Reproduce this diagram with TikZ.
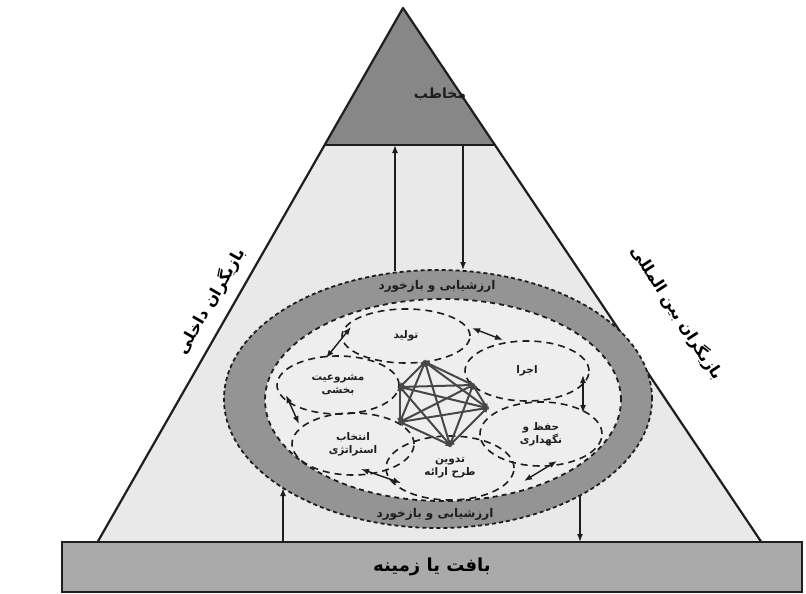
\documentclass[tikz,border=0pt]{standalone}
\usepackage{fontspec}
\newfontfamily\arabicfont[Script=Arabic]{DejaVu Sans}
\TeXXeTstate=1
\usetikzlibrary{arrows.meta,shapes.geometric}
\definecolor{topgray}{RGB}{135,135,135}
\definecolor{bodygray}{RGB}{233,233,233}
\definecolor{ringgray}{RGB}{148,148,148}
\definecolor{innergray}{RGB}{238,238,238}
\definecolor{bandgray}{RGB}{170,170,170}
\definecolor{linegray}{RGB}{30,30,30}
\newcommand{\fa}[1]{{\arabicfont\beginR #1\endR}}
\begin{document}
\begin{tikzpicture}[x=1pt,y=-1pt,
  ell/.style={ellipse,draw=linegray,dash pattern=on 7pt off 5pt,line width=1.6pt,inner sep=0pt,align=center,font=\bfseries\fontsize{10.5}{13}\selectfont,text=linegray},
  arr/.style={line width=1.4pt,linegray,-{Latex[length=8pt,width=6pt]}},
  darr/.style={line width=1.4pt,linegray,{Latex[length=8pt,width=6pt]}-{Latex[length=8pt,width=6pt]}},
  net/.style={line width=2pt,black!72,{Latex[length=7pt,width=6pt]}-{Latex[length=7pt,width=6pt]}},
  lbl/.style={font=\bfseries\fontsize{12}{14}\selectfont,text=linegray,inner sep=1pt},
  side/.style={font=\bfseries\fontsize{16}{18}\selectfont,text=black,inner sep=1pt}]
\useasboundingbox (0,0) rectangle (806,594);
\fill[white] (0,0) rectangle (806,594);
% pyramid
\coordinate (apex) at (403,8);
\coordinate (bl) at (97,543);
\coordinate (br) at (762,543);
\fill[bodygray] (apex) -- (bl) -- (br) -- cycle;
\begin{scope}
\clip (apex) -- (bl) -- (br) -- cycle;
\fill[topgray] (0,0) rectangle (806,145);
\draw[linegray,line width=1.8pt] (0,145) -- (806,145);
\end{scope}
\draw[linegray,line width=2.2pt,line join=round] (bl) -- (apex) -- (br);
% bottom band
\node[draw=linegray,line width=1.8pt,fill=bandgray,minimum width=740pt,minimum height=50pt,inner sep=0pt,font=\bfseries\fontsize{18}{20}\selectfont] (band) at (432,567) {\fa{بافت یا زمینه}};
% audience
\node[lbl,font=\bfseries\fontsize{14}{16}\selectfont] (aud) at (440,94) {\fa{مخاطب}};
% ring
\fill[ringgray,even odd rule] (438,399) ellipse [x radius=214pt, y radius=129pt] (443,400) ellipse [x radius=178pt, y radius=101pt];
\fill[innergray] (443,400) ellipse [x radius=178pt, y radius=101pt];
\draw[linegray,line width=1.8pt,dash pattern=on 4pt off 3pt] (438,399) ellipse [x radius=214pt, y radius=129pt];
\draw[linegray,line width=1.8pt,dash pattern=on 5pt off 4pt] (443,400) ellipse [x radius=178pt, y radius=101pt];
\node[lbl] (evtop) at (437,286) {\fa{ارزشیابی و بازخورد}};
\node[lbl] (evbot) at (435,514) {\fa{ارزشیابی و بازخورد}};
% side labels
\node[side,rotate=60] (left) at (211,301) {\fa{بازیگران داخلی}};
\node[side,rotate=-57] (right) at (677,313) {\fa{بازیگران بین المللی}};
% inner ellipses
\node[ell,minimum width=128pt,minimum height=54pt] (tolid) at (406,336) {\fa{تولید}};
\node[ell,minimum width=124pt,minimum height=60pt] (ejra) at (527,371) {\fa{اجرا}};
\node[ell,minimum width=122pt,minimum height=64pt] (hefz) at (541,434) {\fa{حفظ و}\\\fa{نگهداری}};
\node[ell,minimum width=128pt,minimum height=64pt] (tadvin) at (450,468) {\fa{تدوین}\\\fa{طرح ارائه}};
\node[ell,minimum width=122pt,minimum height=62pt] (entekhab) at (353,444) {\fa{انتخاب}\\\fa{استراتژی}};
\node[ell,minimum width=122pt,minimum height=58pt] (mashru) at (338,385) {\fa{مشروعیت}\\\fa{بخشی}};
% arrows between ellipses
\coordinate (a1) at (472,328); \coordinate (b1) at (503,340);
\coordinate (a2) at (583,375); \coordinate (b2) at (583,413);
\coordinate (a3) at (557,461); \coordinate (b3) at (524,481);
\coordinate (a4) at (401,483); \coordinate (b4) at (361,469);
\coordinate (a5) at (299,424); \coordinate (b5) at (286,395);
\coordinate (a6) at (326,358); \coordinate (b6) at (351,327);
\foreach \i in {1,...,6} \draw[darr] (a\i) -- (b\i);
% vertical arrows
\coordinate (t1a) at (395,271); \coordinate (t1b) at (395,145);
\coordinate (t2a) at (463,145); \coordinate (t2b) at (463,270);
\coordinate (b1a) at (283,542); \coordinate (b1b) at (283,488);
\coordinate (b2a) at (580,495); \coordinate (b2b) at (580,542);
\draw[arr] (t1a) -- (t1b);
\draw[arr] (t2a) -- (t2b);
\draw[arr] (b1a) -- (b1b);
\draw[arr] (b2a) -- (b2b);
% central network
\coordinate (n1) at (425,362);
\coordinate (n2) at (473,385);
\coordinate (n3) at (487,408);
\coordinate (n4) at (450,445);
\coordinate (n5) at (400,422);
\coordinate (n6) at (400,387);
\foreach \a/\b in {n1/n2,n1/n3,n1/n4,n1/n5,n1/n6,n2/n3,n2/n4,n2/n5,n2/n6,n3/n4,n3/n5,n3/n6,n4/n5,n4/n6,n5/n6}
  \draw[net,shorten <=-3pt,shorten >=-3pt] (\a) -- (\b);
\end{tikzpicture}
\end{document}
